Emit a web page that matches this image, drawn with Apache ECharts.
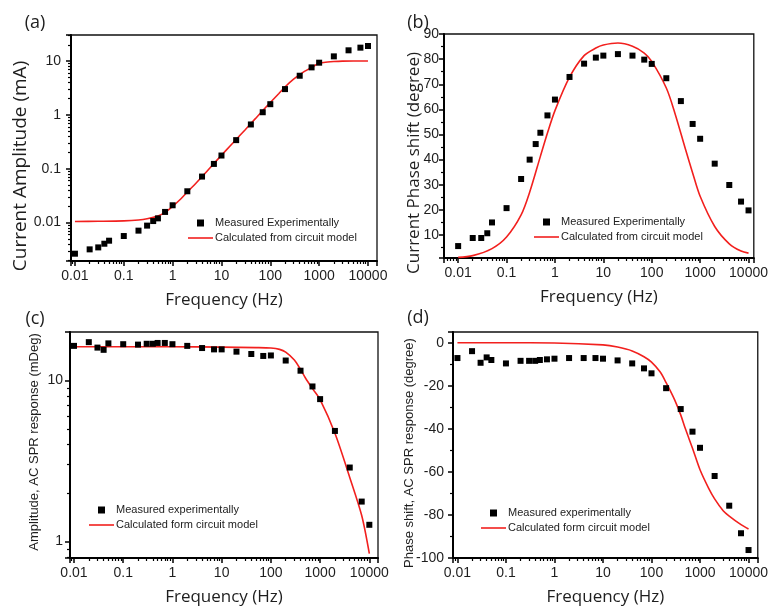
<!DOCTYPE html>
<html>
<head>
<meta charset="utf-8">
<script src="https://cdn.jsdelivr.net/npm/echarts@6/dist/echarts.min.js"></script>
<style>
  html, body { margin: 0; padding: 0; background: #fff; }
  #wrap { position: relative; width: 771px; height: 608px; }
  .panel { position: absolute; left: 0; top: 0; width: 771px; height: 608px; }
</style>
</head>
<body>
<div id="wrap"></div>
<script>
// measured frequencies (Hz), same for all four panels
const freqMeas = [0.01, 0.02, 0.03, 0.04, 0.05, 0.1, 0.2, 0.3, 0.4, 0.5, 0.7, 1, 2, 4, 7, 10, 20, 40, 70, 100, 200, 400, 700, 1000, 2000, 4000, 7000, 10000];

// (a) current amplitude (mA)
const ampMeasA = [0.00265, 0.00319, 0.00347, 0.00406, 0.00462, 0.00564, 0.0071, 0.0088, 0.0107, 0.0120, 0.0158, 0.0210, 0.0382, 0.0716, 0.123, 0.176, 0.340, 0.664, 1.12, 1.58, 3.01, 5.33, 7.62, 9.31, 12.2, 15.8, 17.7, 19.0];
const freqModelA = [0.01, 0.03, 0.1, 0.2, 0.3, 0.5, 0.7, 1, 1.5, 2, 3, 5, 7, 10, 15, 20, 30, 50, 70, 100, 150, 200, 300, 500, 700, 1000, 1500, 2000, 3000, 5000, 10000];
const ampModelA = [0.0105, 0.0106, 0.0108, 0.0112, 0.0118, 0.0133, 0.0155, 0.0200, 0.028, 0.037, 0.054, 0.089, 0.125, 0.178, 0.265, 0.35, 0.52, 0.86, 1.2, 1.7, 2.5, 3.3, 4.6, 6.4, 7.6, 9.1, 9.6, 9.8, 9.95, 10.0, 10.0];

// (b) current phase shift (degree)
const phaseMeasB = [5.6, 8.8, 8.8, 10.7, 15.0, 20.7, 32.3, 40.0, 46.2, 50.7, 57.6, 63.9, 72.9, 78.2, 80.6, 81.4, 82.0, 81.4, 79.8, 78.1, 72.4, 63.3, 54.2, 48.3, 38.4, 29.9, 23.3, 19.8];
const freqModelB = [0.01, 0.02, 0.05, 0.1, 0.2, 0.3, 0.5, 0.7, 1, 2, 4, 7, 10, 20, 40, 70, 100, 200, 300, 500, 700, 1000, 2000, 4000, 7000, 10000];
const phaseModelB = [1.1, 1.8, 4.6, 9.2, 18.0, 27.0, 41.3, 50.6, 59.5, 72.8, 81.4, 84.4, 85.6, 86.4, 85.1, 82.4, 79.1, 68.5, 58.6, 44.0, 34.7, 25.4, 13.4, 6.5, 3.6, 2.8];

// (c) amplitude, AC SPR response (mDeg)
const ampMeasC = [16.4, 17.3, 16.0, 15.5, 17.0, 16.8, 16.7, 16.9, 16.9, 17.1, 17.1, 16.8, 16.4, 15.9, 15.6, 15.6, 15.1, 14.6, 14.2, 14.3, 13.3, 11.5, 9.18, 7.66, 4.86, 2.88, 1.77, 1.27];
const freqModelC = [0.01, 0.1, 1, 10, 50, 100, 150, 200, 300, 400, 500, 700, 1000, 2000, 4000, 7000, 10000];
const ampModelC = [16.2, 16.2, 16.2, 16.1, 16.0, 15.9, 15.6, 15.0, 13.4, 11.7, 10.4, 8.9, 7.6, 4.7, 2.5, 1.45, 0.84];

// (d) phase shift, AC SPR response (degree)
const phaseMeasD = [-7.1, -3.9, -9.3, -6.8, -8.0, -9.6, -8.4, -8.4, -8.4, -8.0, -7.7, -7.4, -7.1, -7.1, -7.1, -7.4, -8.2, -9.6, -11.9, -14.2, -21.1, -30.8, -41.3, -48.8, -61.9, -75.7, -88.5, -96.3];
const freqModelD = [0.01, 0.1, 1, 10, 20, 40, 70, 100, 150, 200, 300, 400, 500, 700, 1000, 1500, 2000, 3000, 4000, 7000, 10000];
const phaseModelD = [0, 0, -0.1, -1, -2, -3.8, -6.5, -9, -13.5, -18.5, -26.5, -33.5, -40, -49, -59, -67.5, -72.5, -78, -80.5, -84.5, -86.5];

// tick labels of the log axes, by decade exponent
const decadeExp = [-3, -2, -1, 0, 1, 2, 3, 4];
const decadeLabels = ['0.001', '0.01', '0.1', '1', '10', '100', '1000', '10000'];

const RED = '#f2201e';
const TXT = '#1e1e1e';
const TICK_FONT = 'Liberation Sans';

function zip(xs, ys) {
  return xs.map((x, i) => [x, ys[i]]);
}
// only exact decades get a label (hides the min/max end labels)
function decadeFmt(v) {
  const l = Math.log10(v);
  const r = Math.round(l);
  if (Math.abs(l - r) > 1e-6) return '';
  const i = decadeExp.indexOf(r);
  return i >= 0 ? decadeLabels[i] : '';
}

function axis(type, min, max, opts) {
  const a = {
    type: type, gridIndex: 0, min: min, max: max,
    axisLine: { show: true, onZero: false, lineStyle: { color: '#000', width: 2 } },
    axisTick: { show: true, inside: false, length: 5, lineStyle: { color: '#000', width: 1.5 } },
    minorTick: { show: true, splitNumber: type === 'log' ? 9 : 2, length: 3, lineStyle: { color: '#000', width: 1.2 } },
    axisLabel: {
      margin: opts.margin || 8, fontFamily: TICK_FONT, fontSize: 14, color: TXT,
      formatter: type === 'log' ? decadeFmt : null
    },
    splitLine: { show: false },
    minorSplitLine: { show: false }
  };
  if (opts.splitNumber) a.splitNumber = opts.splitNumber;
  if (opts.interval) a.interval = opts.interval;
  if (opts.hideMin) a.axisLabel.showMinLabel = false;
  if (opts.hideMax) a.axisLabel.showMaxLabel = false;
  if (opts.name) {
    a.name = opts.name;
    a.nameLocation = 'middle';
    a.nameGap = 31;
    a.nameTextStyle = { fontFamily: 'Open Sans', fontSize: 17, color: TXT };
  }
  return a;
}

function panelSeries(scatterName, lineName, mx, my, lx, ly) {
  return [
    {
      type: 'line', name: lineName, xAxisIndex: 0, yAxisIndex: 0,
      data: zip(lx, ly), smooth: 0.3, symbol: 'none', showSymbol: false,
      lineStyle: { color: RED, width: 1.6 }, itemStyle: { color: RED }, z: 2
    },
    {
      type: 'scatter', name: scatterName, xAxisIndex: 0, yAxisIndex: 0,
      data: zip(mx, my), symbol: 'rect', symbolSize: 6,
      itemStyle: { color: '#000', opacity: 1 }, z: 3
    }
  ];
}

const SQUARE = 'path://M0 0H10V10H0Z';
const DASH = 'path://M0 0H25V1.6H0Z';
function legendAt(left, top, scatterName, lineName) {
  return {
    orient: 'vertical', left: left, top: top, padding: 0,
    itemWidth: 25, itemHeight: 7, itemGap: 1, selectedMode: false,
    data: [{ name: scatterName, icon: SQUARE }, { name: lineName, icon: DASH }],
    textStyle: { fontFamily: TICK_FONT, fontSize: 11, lineHeight: 14, color: '#222', padding: [0, 0, 0, -3] }
  };
}

function label(text, x, y, size, family, rotate) {
  return {
    type: 'text', x: x, y: y, rotation: rotate ? Math.PI / 2 : 0,
    style: { text: text, fontFamily: family, fontSize: size, fill: TXT, align: 'center', verticalAlign: 'middle' }
  };
}

// one chart instance per panel, all stacked on the same 771x608 area
const panels = [
  {
    grid: { left: 71, top: 35, width: 306, height: 226 },
    xAxis: axis('log', 0.0083, 15300, { name: 'Frequency (Hz)' }),
    yAxis: axis('log', 0.00194, 30.4, { margin: 10 }),
    legend: legendAt(188, 216, 'Measured Experimentally', 'Calculated from circuit model'),
    series: panelSeries('Measured Experimentally', 'Calculated from circuit model', freqMeas, ampMeasA, freqModelA, ampModelA),
    graphic: [label('(a)', 35, 23, 18, 'Open Sans'), label('Current Amplitude (mA)', 21, 166, 19, 'Open Sans', true)]
  },
  {
    grid: { left: 444, top: 34, width: 312, height: 224 },
    xAxis: axis('log', 0.0051, 12850, { name: 'Frequency (Hz)' }),
    yAxis: axis('value', 0.85, 90, { margin: 5, splitNumber: 9, hideMin: true }),
    legend: legendAt(534, 215, 'Measured Experimentally', 'Calculated from circuit model'),
    series: panelSeries('Measured Experimentally', 'Calculated from circuit model', freqMeas, phaseMeasB, freqModelB, phaseModelB),
    graphic: [label('(b)', 418, 23, 18, 'Open Sans'), label('Current Phase shift (degree)', 414, 163, 17, 'Open Sans', true)]
  },
  {
    grid: { left: 70, top: 332, width: 308, height: 226 },
    xAxis: axis('log', 0.0083, 15000, { name: 'Frequency (Hz)' }),
    yAxis: axis('log', 0.79, 20, { margin: 7 }),
    legend: legendAt(89, 503, 'Measured experimentally', 'Calculated form circuit model'),
    series: panelSeries('Measured experimentally', 'Calculated form circuit model', freqMeas, ampMeasC, freqModelC, ampModelC),
    graphic: [label('(c)', 35, 319, 18, 'Open Sans'), label('Amplitude, AC SPR response (mDeg)', 34, 442, 13, 'Liberation Sans', true)]
  },
  {
    grid: { left: 453, top: 332, width: 308, height: 226 },
    xAxis: axis('log', 0.0081, 15500, { name: 'Frequency (Hz)' }),
    yAxis: axis('value', -100, 5, { margin: 9, interval: 20, hideMax: true }),
    legend: legendAt(481, 506, 'Measured experimentally', 'Calculated form circuit model'),
    series: panelSeries('Measured experimentally', 'Calculated form circuit model', freqMeas, phaseMeasD, freqModelD, phaseModelD),
    graphic: [label('(d)', 418, 318, 18, 'Open Sans'), label('Phase shift, AC SPR response (degree)', 409, 453, 13, 'Liberation Sans', true)]
  }
];

const wrap = document.getElementById('wrap');
panels.forEach(function (p) {
  const div = document.createElement('div');
  div.className = 'panel';
  wrap.appendChild(div);
  echarts.init(div).setOption({
    animation: false,
    title: { text: '' },
    grid: [Object.assign({ show: true, borderColor: '#111', borderWidth: 1.3 }, p.grid)],
    xAxis: [p.xAxis],
    yAxis: [p.yAxis],
    legend: [p.legend],
    series: p.series,
    graphic: p.graphic
  });
});
</script>
</body>
</html>
